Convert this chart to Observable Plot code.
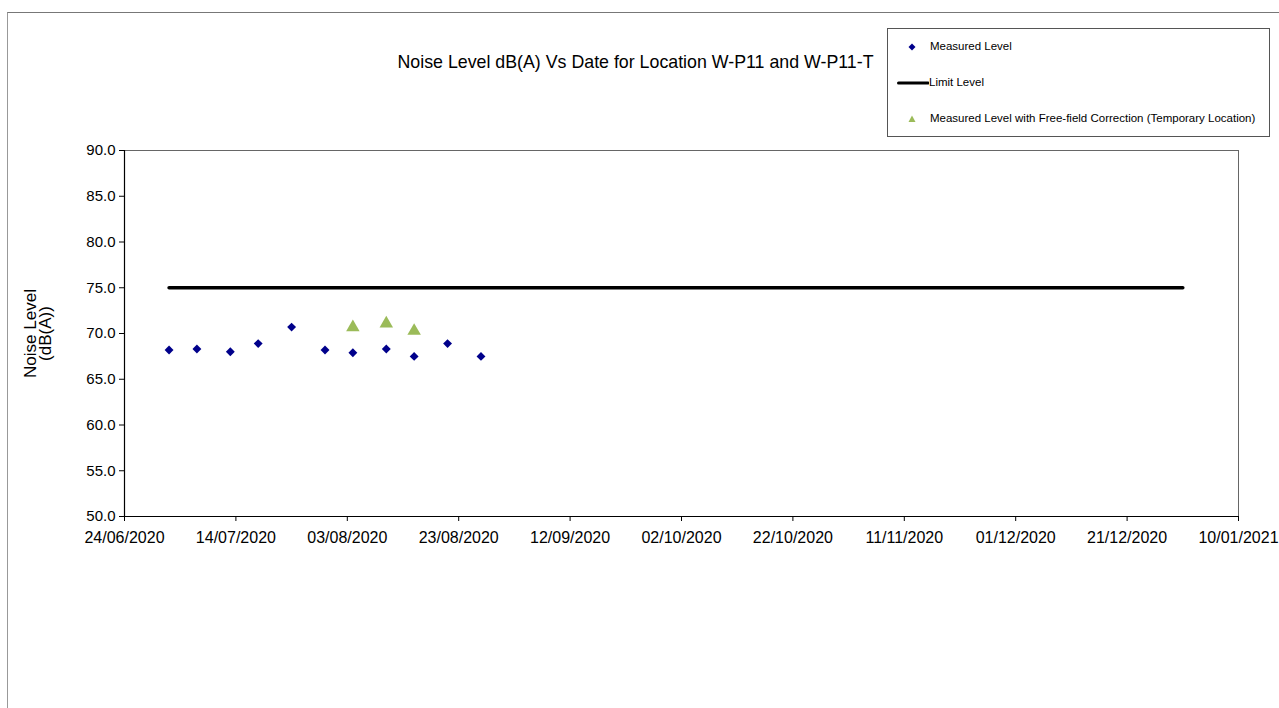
<!DOCTYPE html>
<html>
<head>
<meta charset="utf-8">
<script src="https://cdn.jsdelivr.net/npm/d3@7"></script>
<script src="https://cdn.jsdelivr.net/npm/@observablehq/plot@0.6"></script>
<style>
  html, body { margin: 0; padding: 0; background: #fff; }
  body { font-family: "Liberation Sans", Arial, sans-serif; }
  #wrap { position: relative; width: 1279px; height: 708px; overflow: hidden; }
  #wrap svg.plot { position: absolute; left: 0; top: 0; }
  #border { position: absolute; left: 7px; top: 12px; width: 1290px; height: 720px;
            border-left: 1.5px solid #999; border-top: 1.5px solid #777; box-sizing: border-box; }
  #title { position: absolute; left: 0; width: 1279px; top: 52px; text-align: center;
           font-size: 17.8px; color: #000; }
  #title span { position: relative; left: -4px; }
  #legend { position: absolute; left: 887px; top: 28px; width: 383px; height: 109px;
            border: 1px solid #555; box-sizing: border-box; background: #fff; }
  .lg { position: absolute; font-size: 11.5px; color: #000; white-space: nowrap; }
</style>
</head>
<body>
<div id="wrap">
  <div id="border"></div>
  <div id="title"><span>Noise Level dB(A) Vs Date for Location W-P11 and W-P11-T</span></div>
  <div id="legend"></div>
</div>
<script>
// ---- data ----
const measuredDates = ["2020-07-02","2020-07-07","2020-07-13","2020-07-18","2020-07-24","2020-07-30","2020-08-04","2020-08-10","2020-08-15","2020-08-21","2020-08-27"];
const measuredLevels = [68.2, 68.3, 68.0, 68.9, 70.7, 68.2, 67.9, 68.3, 67.5, 68.9, 67.5];
const correctedDates = ["2020-08-04","2020-08-10","2020-08-15"];
const correctedLevels = [70.9, 71.3, 70.5];
const limitDates = ["2020-07-02","2020-12-31"];
const limitLevels = [75, 75];
const xTickLabels = ["24/06/2020","14/07/2020","03/08/2020","23/08/2020","12/09/2020","02/10/2020","22/10/2020","11/11/2020","01/12/2020","21/12/2020","10/01/2021"];
const yTicks = [50, 55, 60, 65, 70, 75, 80, 85, 90];
const seriesNames = ["Measured Level", "Limit Level", "Measured Level with Free-field Correction (Temporary Location)"];

const parseISO = d3.utcParse("%Y-%m-%d");
const parseDMY = d3.utcParse("%d/%m/%Y");
const fmtDMY = d3.utcFormat("%d/%m/%Y");

const measured = measuredDates.map((d, i) => ({date: parseISO(d), value: measuredLevels[i]}));
const corrected = correctedDates.map((d, i) => ({date: parseISO(d), value: correctedLevels[i]}));
const limit = limitDates.map((d, i) => ({date: parseISO(d), value: limitLevels[i]}));
const xTicks = xTickLabels.map(parseDMY);

const navy = "#00008B";
const green = "#9BBB59";
const font = "Liberation Sans, Arial, sans-serif";

const chart = Plot.plot({
  width: 1279,
  height: 708,
  marginLeft: 124,
  marginRight: 41,
  marginTop: 150,
  marginBottom: 192,
  style: {fontFamily: font, color: "#000", background: "transparent", overflow: "visible"},
  x: {type: "utc", domain: [xTicks[0], xTicks[xTicks.length - 1]]},
  y: {domain: [50, 90]},
  marks: [
    Plot.frame({stroke: "#666", strokeWidth: 1}),
    Plot.axisY({ticks: yTicks, tickFormat: d => d.toFixed(1), tickSize: 5, tickPadding: 4,
                fontSize: 15, label: null, stroke: "#000"}),
    Plot.axisX({ticks: xTicks, tickFormat: fmtDMY, tickSize: 5, tickPadding: 10,
                fontSize: 16, label: null, stroke: "#000"}),
    Plot.ruleX([xTicks[0]], {stroke: "#000", strokeWidth: 1.2}),
    Plot.ruleY([50], {stroke: "#000", strokeWidth: 1.2}),
    Plot.text(["Noise Level\n(dB(A))"], {frameAnchor: "left", dx: -86, dy: 0, rotate: -90,
                textAnchor: "middle", fontSize: 17, lineHeight: 0.88, fill: "#000"}),
    Plot.line(limit, {x: "date", y: "value", stroke: "#000", strokeWidth: 3.5, strokeLinecap: "round"}),
    Plot.dot(measured, {x: "date", y: "value", symbol: "diamond2", r: 4, fill: navy, stroke: "none"}),
    Plot.dot(corrected, {x: "date", y: "value", symbol: "triangle", r: 5, dy: 2, fill: green, stroke: "none"})
  ]
});
chart.classList.add("plot");
document.getElementById("wrap").insertBefore(chart, document.getElementById("title"));

// ---- legend ----
const legend = document.getElementById("legend");
const ns = "http://www.w3.org/2000/svg";
function sym(svgInner, left, top, w, h) {
  const s = document.createElementNS(ns, "svg");
  s.setAttribute("width", w); s.setAttribute("height", h);
  s.style.position = "absolute"; s.style.left = left + "px"; s.style.top = top + "px";
  s.innerHTML = svgInner;
  legend.appendChild(s);
}
function label(text, left, top) {
  const d = document.createElement("div");
  d.className = "lg"; d.textContent = text;
  d.style.left = left + "px"; d.style.top = top + "px";
  legend.appendChild(d);
}
// Measured Level (diamond)
sym(`<path d="M4,0.5L7.5,4L4,7.5L0.5,4Z" fill="${navy}"/>`, 20, 14, 8, 8);
label(seriesNames[0], 42, 11);
// Limit Level (line)
sym(`<line x1="1.5" y1="3" x2="31" y2="3" stroke="#000" stroke-width="3" stroke-linecap="round"/>`, 9, 51, 32, 6);
label(seriesNames[1], 41, 47);
// Corrected (triangle)
sym(`<path d="M4,0.5L7.5,7L0.5,7Z" fill="${green}"/>`, 20, 86, 8, 8);
label(seriesNames[2], 42, 83);
</script>
</body>
</html>
